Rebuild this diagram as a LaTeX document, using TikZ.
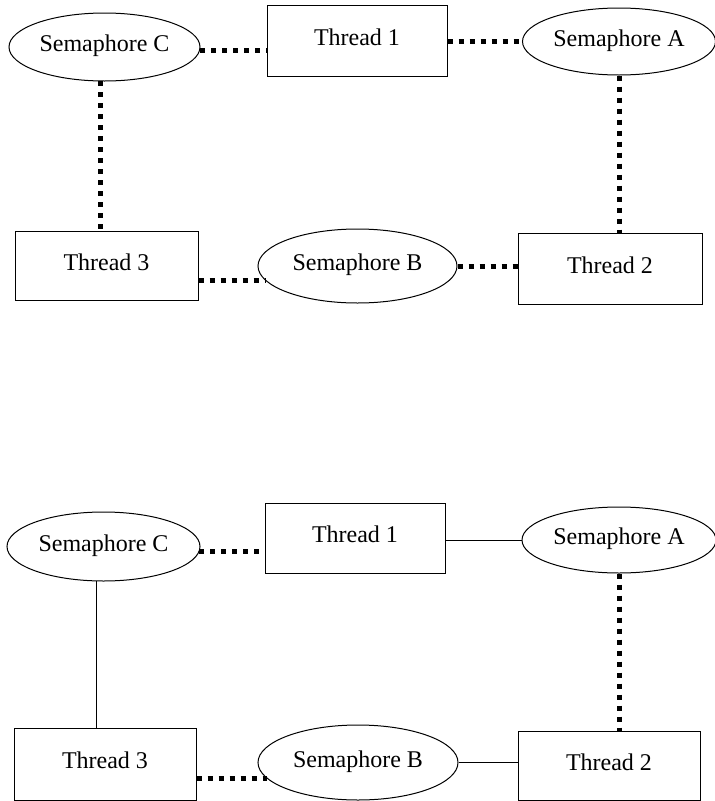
\documentclass[tikz,border=0pt]{standalone}
\usepackage{fontspec}
\setmainfont{Liberation Serif}
\usetikzlibrary{shapes.geometric}
\begin{document}
\begin{tikzpicture}[x=1pt,y=-1pt,
  every node/.style={font=\fontsize{24}{28}\selectfont, inner sep=0pt,
    text height=16.5pt, text depth=7pt},
  thread/.style={draw, rectangle, line width=1pt},
  sema/.style={draw, ellipse, line width=1pt},
  dotlink/.style={line width=5pt, dash pattern=on 5pt off 6pt},
  plainlink/.style={line width=1pt}]
\useasboundingbox (0,0) rectangle (715,801);

% ---------- upper graph ----------
\node[sema,   minimum width=191pt, minimum height=68pt] (semC) at (104.5,47)  {Semaphore C};
\node[thread, minimum width=180pt, minimum height=71pt] (t1)   at (357,40.5)  {Thread 1};
\node[sema,   minimum width=193pt, minimum height=67pt] (semA) at (619,41.5)  {Semaphore A};
\node[thread, minimum width=183pt, minimum height=69pt] (t3)   at (106.5,265.5) {Thread 3};
\node[sema,   minimum width=199pt, minimum height=74pt] (semB) at (357.5,266) {Semaphore B};
\node[thread, minimum width=184pt, minimum height=71pt] (t2)   at (610,268.5)  {Thread 2};

\draw[dotlink] (semC.358) -- (semC.358 -| t1.west);
\draw[dotlink] (semA.west -| t1.east) -- (semA.west);
\draw[dotlink] (semC.263) -- (semC.263 |- t3.north);
\draw[dotlink] (semA.south) -- (semA.south |- t2.north);
\draw[dotlink] (semB.189 -| t3.east) -- (semB.189);
\draw[dotlink] (semB.east) -- (semB.east -| t2.west);

% ---------- lower graph ----------
\node[sema,   minimum width=193pt, minimum height=69pt] (semCb) at (103.5,546.5) {Semaphore C};
\node[thread, minimum width=180pt, minimum height=70pt] (t1b)   at (355,538)    {Thread 1};
\node[sema,   minimum width=194pt, minimum height=66pt] (semAb) at (619,540)    {Semaphore A};
\node[thread, minimum width=182pt, minimum height=72pt] (t3b)   at (105,764)    {Thread 3};
\node[sema,   minimum width=200pt, minimum height=75pt] (semBb) at (358,762.5)  {Semaphore B};
\node[thread, minimum width=182pt, minimum height=69pt] (t2b)   at (609,765.5)  {Thread 2};

\draw[dotlink]   (semCb.357) -- (semCb.357 -| t1b.west);
\draw[plainlink] (semAb.west -| t1b.east) -- (semAb.west);
\draw[plainlink] (semCb.259) -- (semCb.259 |- t3b.north);
\draw[dotlink]   (semAb.south) -- (semAb.south |- t2b.north);
\draw[dotlink]   (semBb.190 -| t3b.east) -- (semBb.190);
\draw[plainlink] (semBb.east) -- (semBb.east -| t2b.west);
\end{tikzpicture}
\end{document}
